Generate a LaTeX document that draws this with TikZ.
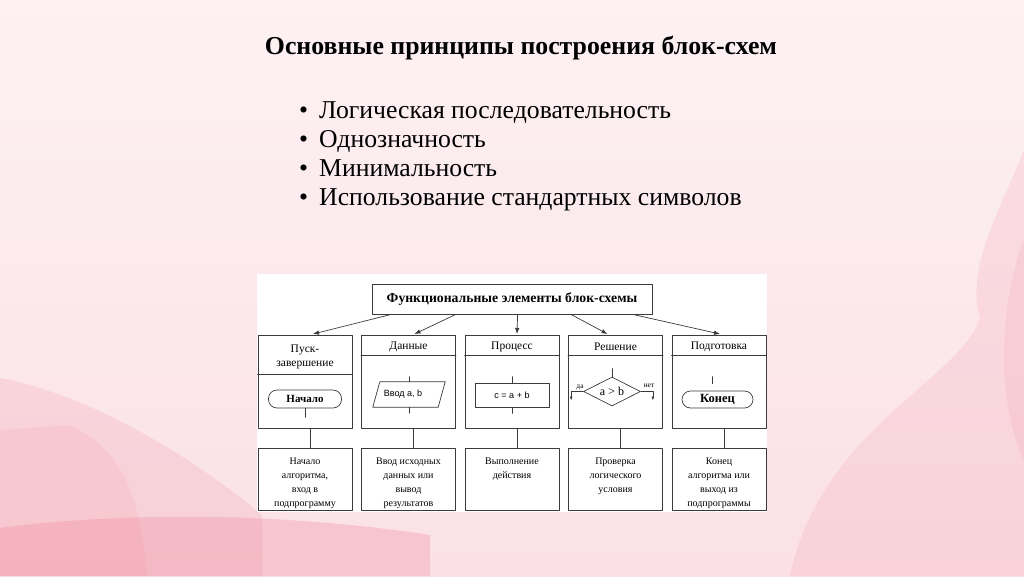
\documentclass[tikz,border=0pt]{standalone}
\usepackage{fontspec}
\setmainfont{Liberation Serif}
\newfontfamily\arialfont{Liberation Sans}
\usetikzlibrary{arrows.meta,shapes.geometric,calc}
\definecolor{bgtop}{HTML}{FDF1F3}
\definecolor{bgbot}{HTML}{FBE1E6}
\definecolor{swirl}{HTML}{F3A0B0}
\definecolor{swirldeep}{HTML}{EE8598}
\definecolor{linegray}{HTML}{3A3A3A}
\tikzset{
    heading/.style={anchor=base, inner sep=0, font=\bfseries\fontsize{25.8}{30}\selectfont},
    item/.style={anchor=base west, inner sep=0, font=\fontsize{25.7}{30}\selectfont},
    fbox/.style={draw=linegray, line width=0.8pt, inner sep=0,
        minimum width=280, minimum height=30,
        font=\bfseries\fontsize{13.7}{16}\selectfont},
    colbox/.style={draw=linegray, line width=0.8pt, inner sep=0,
        minimum width=94, anchor=north},
    colhead/.style={align=center, inner sep=0,
        font=\fontsize{11.5}{14}\selectfont},
    coltext/.style={align=center, inner sep=0, anchor=north,
        font=\fontsize{10}{14}\selectfont},
    term/.style={draw=linegray, line width=0.7pt, inner sep=0,
        rounded corners=8.5pt, font=\bfseries\fontsize{11}{13}\selectfont},
    arr/.style={-{Latex[length=6pt,width=4.5pt]}, line width=0.7pt, linegray}
}

\begin{document}
\begin{tikzpicture}[x=1pt, y=-1pt, line cap=round, line join=round]
\useasboundingbox (0,0) rectangle (1024,576);

% background
\shade[top color=bgtop, bottom color=bgbot] (0,0) rectangle (1024,576);
\fill[swirl, opacity=0.25] (0,378) .. controls (90,395) and (190,455) .. (262,515)
    -- (262,576) -- (0,576) -- cycle;
\fill[swirl, opacity=0.20] (70,425) .. controls (120,450) and (140,490) .. (147,576)
    -- (0,576) -- (0,430) -- cycle;
\fill[swirldeep, opacity=0.30] (0,528) .. controls (120,512) and (280,512) .. (430,535)
    -- (430,576) -- (0,576) -- cycle;
\fill[swirl, opacity=0.22] (1024,150) .. controls (1000,210) and (965,270) .. (980,318)
    .. controls (960,380) and (820,430) .. (790,576) -- (1024,576) -- cycle;
\fill[swirl, opacity=0.18] (1024,240) .. controls (1000,300) and (995,400) .. (1024,460) -- cycle;

% title and list
\node[heading] (title) at (521,54) {Основные принципы построения блок-схем};
\foreach \t [count=\k from 0] in {Логическая последовательность, Однозначность,
    Минимальность, Использование стандартных символов} {
  \node[item] (item\k) at (299,{118+29*\k}) {\makebox[20pt][l]{•}\t};
}

% diagram
\fill[white] (257,274) rectangle (767,512);
\node[fbox] (fe) at (512,299) {Функциональные элементы блок-схемы};

\foreach \i/\cx/\hh/\hd/\lt in {
    1/305/39/{Пуск-\\завершение}/{Начало\\алгоритма,\\вход в\\подпрограмму},
    2/408.5/20/Данные/{Ввод исходных\\данных или\\вывод\\результатов},
    3/512/20/Процесс/{Выполнение\\действия},
    4/615.5/20/Решение/{Проверка\\логического\\условия},
    5/719/20/Подготовка/{Конец\\алгоритма или\\выход из\\подпрограммы}} {
  \node[colbox, minimum height=93] (up\i) at (\cx,335) {};
  \draw[linegray, line width=0.8pt] ($(up\i.north west)+(0,\hh)$) -- ($(up\i.north east)+(0,\hh)$);
  \node[colhead] (hd\i) at ($(up\i.north)+(0,\hh/2+2)$) {\hd};
  \node[colbox, minimum height=62] (low\i) at (\cx,448) {};
  \node[coltext] (lt\i) at ($(low\i.north)+(0,9.5)$) {\lt};
  \draw[linegray, line width=0.7pt] ($(up\i.south)+(5,0)$) -- ($(low\i.north)+(5,0)$);
}

\foreach \i/\f/\dx in {1/0.07/8, 2/0.30/6, 3/0.52/5, 4/0.71/-8, 5/0.93/1} {
  \draw[arr] ($(fe.south west)!\f!(fe.south east)$) -- ($(up\i.north)+(\dx,-1)$);
}

% Пуск-завершение
\node[term, minimum width=73, minimum height=18] (nach) at (305,399) {Начало};
\draw[linegray, line width=0.7pt] (nach.south) -- ++(0,9);

% Данные
\node[minimum width=65, minimum height=25, inner sep=0,
    font=\arialfont\fontsize{9}{11}\selectfont] (vvod) at (409,394.5) {Ввод a, b\hspace*{12pt}};
\draw[linegray, line width=0.7pt] ($(vvod.north west)+(3.5,0)$) -- ($(vvod.north east)+(3.5,0)$)
    -- ($(vvod.south east)+(-3.5,0)$) -- ($(vvod.south west)+(-3.5,0)$) -- cycle;
\draw[linegray, line width=0.7pt] (vvod.north) -- ++(0,-5);
\draw[linegray, line width=0.7pt] (vvod.south) -- ++(0,6);

% Процесс
\node[draw=linegray, line width=0.7pt, minimum width=74, minimum height=24, inner sep=0,
    font=\arialfont\fontsize{9}{11}\selectfont] (proc) at (512,395) {c = a + b};
\draw[linegray, line width=0.7pt] (proc.north) -- ++(0,-6);
\draw[linegray, line width=0.7pt] (proc.south) -- ++(0,6);

% Решение
\node[diamond, draw=linegray, line width=0.7pt, minimum width=57, minimum height=29,
    aspect=2, inner sep=0, font=\fontsize{12}{13}\selectfont] (resh) at (612,391.5)
    {\raisebox{-3pt}{a > b}};
\draw[linegray, line width=0.7pt] (resh.north) -- ++(0,-8);
\draw[arr, -{Latex[length=4pt,width=3pt]}] (resh.west) -- ++(-12,0) -- ++(0,9);
\draw[arr, -{Latex[length=4pt,width=3pt]}] (resh.east) -- ++(12,0) -- ++(0,9);
\node[font=\fontsize{7.5}{8}\selectfont, inner sep=0] (da) at (580,387) {да};
\node[font=\fontsize{7.5}{8}\selectfont, inner sep=0] (net) at (649,385.5) {нет};

% Подготовка
\node[term, minimum width=71, minimum height=17, font=\bfseries\fontsize{12.5}{14}\selectfont]
    (kon) at (717.5,399.5) {Конец};
\draw[linegray, line width=0.7pt] ($(kon.north)+(-5.5,-14)$) -- ++(0,7);

\end{tikzpicture}
\end{document}
